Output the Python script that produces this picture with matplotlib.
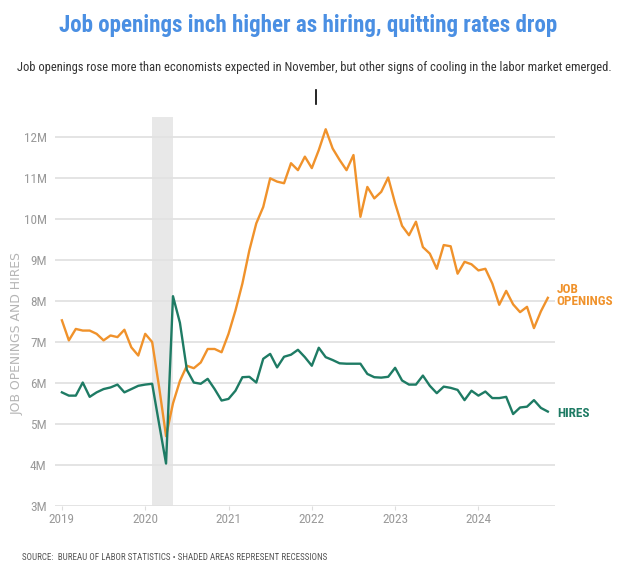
import matplotlib
matplotlib.use('Agg')
import matplotlib.pyplot as plt
from matplotlib import font_manager
from matplotlib.lines import Line2D
import numpy as np

# JOLTS, Jan 2019 - Nov 2024, millions
openings = [7.53, 7.04, 7.32, 7.28, 7.28, 7.20, 7.04, 7.16, 7.12, 7.30, 6.87, 6.67,
            7.20, 7.00, 5.90, 4.70, 5.50, 6.05, 6.42, 6.36, 6.50, 6.83, 6.83, 6.75,
            7.20, 7.77, 8.43, 9.24, 9.90, 10.30, 11.00, 10.92, 10.88, 11.37, 11.20, 11.53,
            11.25, 11.69, 12.20, 11.73, 11.45, 11.20, 11.57, 10.06, 10.79, 10.51, 10.67, 11.02,
            10.39, 9.84, 9.61, 9.94, 9.32, 9.16, 8.79, 9.37, 9.34, 8.67, 8.96, 8.90,
            8.75, 8.79, 8.43, 7.91, 8.25, 7.92, 7.73, 7.86, 7.34, 7.75, 8.08]
hires = [5.77, 5.69, 5.69, 6.01, 5.66, 5.77, 5.85, 5.89, 5.96, 5.77, 5.85, 5.93,
         5.96, 5.98, 5.00, 4.03, 8.12, 7.47, 6.32, 6.01, 5.98, 6.10, 5.85, 5.57,
         5.61, 5.81, 6.14, 6.15, 6.01, 6.59, 6.71, 6.38, 6.64, 6.69, 6.81, 6.63,
         6.42, 6.86, 6.63, 6.56, 6.48, 6.47, 6.47, 6.47, 6.22, 6.14, 6.13, 6.15,
         6.37, 6.06, 5.96, 5.96, 6.18, 5.93, 5.75, 5.91, 5.88, 5.83, 5.58, 5.81,
         5.69, 5.79, 5.63, 5.63, 5.66, 5.24, 5.40, 5.42, 5.58, 5.39, 5.30]
years = ['2019', '2020', '2021', '2022', '2023', '2024']
y_ticks = [3, 4, 5, 6, 7, 8, 9, 10, 11, 12]
recession = (13, 16)  # Feb 2020 - Apr 2020, month index

ORANGE = '#f0922b'
GREEN = '#1e7b64'
BLUE = '#4a8fe3'
GRAY = '#9a9a9a'

# narrowest installed family for the condensed newspaper look
names = {f.name for f in font_manager.fontManager.ttflist}
NARROW = 'DejaVu Sans'
for cand in ['Liberation Sans Narrow', 'Roboto Condensed', 'Open Sans Condensed', 'Roboto', 'Lato']:
    if cand in names:
        NARROW = cand
        break

fig = plt.figure(figsize=(6.29, 5.70), dpi=100)
ax = fig.add_axes([0.0874, 0.1128, 0.7946, 0.682])

x = np.arange(len(openings))
ax.axvspan(recession[0], recession[1], color='#e8e8e8', lw=0, zorder=0)
ax.plot(x, openings, color=ORANGE, lw=1.7, zorder=3)
ax.plot(x, hires, color=GREEN, lw=1.7, zorder=3)

ax.set_xlim(-1, 71)
ax.set_ylim(3, 12.5)
ax.set_yticks(y_ticks)
ax.set_yticklabels([f'{v}M' for v in y_ticks])
ax.set_xticks(np.arange(len(years)) * 12)
ax.set_xticklabels(years)
ax.grid(axis='y', color='#e2e2e2', lw=1.3, zorder=1)
for s in ax.spines.values():
    s.set_visible(False)
ax.tick_params(axis='y', length=0, pad=6, labelcolor=GRAY, labelsize=9.5)
ax.tick_params(axis='x', length=3, color='#dddddd', pad=2, labelcolor=GRAY, labelsize=9.5)
for lab in ax.get_xticklabels() + ax.get_yticklabels():
    lab.set_family(NARROW)

ylab = ax.set_ylabel('JOB OPENINGS AND HIRES', color='#b5b5b5', fontsize=8, family='DejaVu Sans')
ax.yaxis.set_label_coords(-0.062, 0.444)

ax.text(71.3, openings[-1] + 0.05, 'JOB\nOPENINGS', color=ORANGE, fontsize=9.5, fontweight='bold',
        family=NARROW, va='center', ha='left', linespacing=0.9)
ax.text(71.3, hires[-1] - 0.05, 'HIRES', color=GREEN, fontsize=9.5, fontweight='bold',
        family=NARROW, va='center', ha='left')

title = fig.text(0.49, 0.955, 'Job openings inch higher as hiring, quitting rates drop',
                 color=BLUE, fontsize=22, fontweight='bold', family=NARROW,
                 ha='center', va='center')
sub = fig.text(0.5, 0.881, 'Job openings rose more than economists expected in November, '
               'but other signs of cooling in the labor market emerged.',
               color='#333333', fontsize=10, family=NARROW, ha='center', va='center')
src = fig.text(0.035, 0.022, 'SOURCE:  BUREAU OF LABOR STATISTICS \u2022 SHADED AREAS REPRESENT RECESSIONS',
               color='#555555', fontsize=6.5, family=NARROW, ha='left', va='center')

# squeeze text to the sizes seen in the reference
fig.canvas.draw()
r = fig.canvas.get_renderer()
for t, w in [(title, 498), (sub, 592), (src, 305)]:
    cur = t.get_window_extent(r).width
    t.set_fontsize(t.get_fontsize() * w / cur)
ylab.set_fontsize(ylab.get_fontsize() * 163 / ylab.get_window_extent(r).height)

# stray cursor mark under the subtitle
fig.add_artist(Line2D([316 / 629, 316 / 629], [1 - 90 / 570, 1 - 104 / 570], color='black', lw=1.2))

fig.savefig('out.png', dpi=100)
